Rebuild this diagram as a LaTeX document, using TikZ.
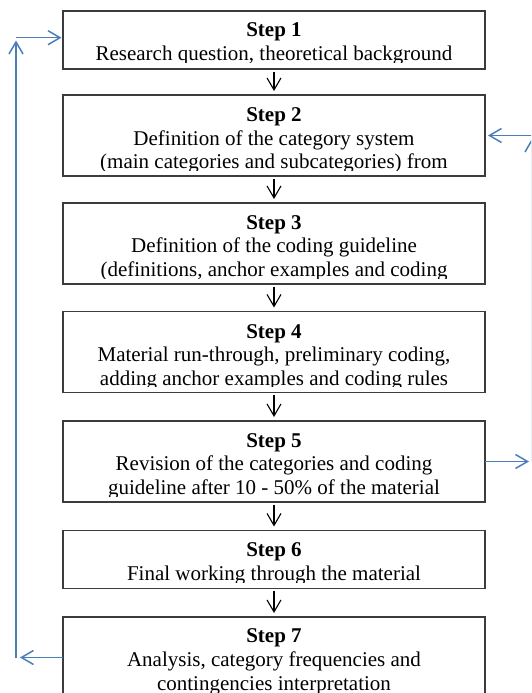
\documentclass[tikz,border=0pt]{standalone}
\usepackage{fontspec}
\setmainfont{Liberation Serif}
\usetikzlibrary{arrows.meta}
\definecolor{boxline}{RGB}{60,60,60}
\definecolor{loopblue}{RGB}{74,126,187}
\begin{document}
\begin{tikzpicture}[x=1pt,y=-1pt,
  stepbox/.style={draw=boxline,line width=1.5pt,minimum width=422pt,inner sep=0pt,outer sep=0pt},
  flow/.style={draw=black,line width=1.1pt,shorten <=2.5pt,shorten >=4pt,-{Straight Barb[length=12pt,width=14pt]}},
  loopline/.style={draw=loopblue,line width=1.5pt},
  loop/.style={loopline,-{Straight Barb[length=12pt,width=14pt]}},
  txt/.style={anchor=base,inner sep=0pt,font=\fontsize{21}{23.5}\selectfont},
  head/.style={txt,font=\fontsize{21}{23.5}\selectfont\bfseries}]
\useasboundingbox (0,0) rectangle (531,693);
\clip (0,0) rectangle (531,693);

% boxes
\node[stepbox,minimum height=58pt] (b1) at (274,40) {};
\node[stepbox,minimum height=81pt] (b2) at (274,135.5) {};
\node[stepbox,minimum height=81pt] (b3) at (274,243.5) {};
\node[stepbox,minimum height=81pt] (b4) at (274,352) {};
\node[stepbox,minimum height=81pt] (b5) at (274,461.5) {};
\node[stepbox,minimum height=58pt] (b6) at (274,559.5) {};
\node[stepbox,minimum height=81pt] (b7) at (274,657.5) {};

% texts, clipped by the text area of their boxes
\begin{scope}
\clip ([shift={(0.75pt,-0.75pt)}]b1.north west) rectangle ([shift={(-0.75pt,6pt)}]b1.south east);
\node[head] (t1a) at (274,37) {Step 1};
\node[txt] (t1b) at (274,60.5) {Research question, theoretical background};
\end{scope}
\begin{scope}
\clip ([shift={(0.75pt,-0.75pt)}]b2.north west) rectangle ([shift={(-0.75pt,6pt)}]b2.south east);
\node[head] (t2a) at (274,121.5) {Step 2};
\node[txt] (t2b) at (274,145) {Definition of the category system};
\node[txt] (t2c) at (274,168.5) {(main categories and subcategories) from};
\end{scope}
\begin{scope}
\clip ([shift={(0.75pt,-0.75pt)}]b3.north west) rectangle ([shift={(-0.75pt,6pt)}]b3.south east);
\node[head] (t3a) at (274,229) {Step 3};
\node[txt] (t3b) at (274,252.5) {Definition of the coding guideline};
\node[txt] (t3c) at (274,276) {(definitions, anchor examples and coding};
\end{scope}
\begin{scope}
\clip ([shift={(0.75pt,-0.75pt)}]b4.north west) rectangle ([shift={(-0.75pt,6pt)}]b4.south east);
\node[head] (t4a) at (274,338) {Step 4};
\node[txt] (t4b) at (274,361.5) {Material run-through, preliminary coding,};
\node[txt] (t4c) at (274,385) {adding anchor examples and coding rules};
\end{scope}
\begin{scope}
\clip ([shift={(0.75pt,-0.75pt)}]b5.north west) rectangle ([shift={(-0.75pt,6pt)}]b5.south east);
\node[head] (t5a) at (274,447) {Step 5};
\node[txt] (t5b) at (274,470.5) {Revision of the categories and coding};
\node[txt] (t5c) at (274,494) {guideline after 10 - 50\% of the material};
\end{scope}
\begin{scope}
\clip ([shift={(0.75pt,-0.75pt)}]b6.north west) rectangle ([shift={(-0.75pt,6pt)}]b6.south east);
\node[head] (t6a) at (274,556.5) {Step 6};
\node[txt] (t6b) at (274,580) {Final working through the material};
\end{scope}
\begin{scope}
\clip ([shift={(0.75pt,-0.75pt)}]b7.north west) rectangle ([shift={(-0.75pt,6pt)}]b7.south east);
\node[head] (t7a) at (274,642) {Step 7};
\node[txt] (t7b) at (274,666.5) {Analysis, category frequencies and};
\node[txt] (t7c) at (274,690) {contingencies interpretation};
\end{scope}

% main flow
\draw[flow] (b1) -- (b2);
\draw[flow] (b2) -- (b3);
\draw[flow] (b3) -- (b4);
\draw[flow] (b4) -- (b5);
\draw[flow] (b5) -- (b6);
\draw[flow] (b6) -- (b7);

% left feedback loop
\coordinate (l7) at (20,657.5);
\coordinate (lbot) at (16,658.2);
\coordinate (ltop) at (16,40.5);
\coordinate (l1) at (16,37.7);
\draw[loop] (b7.west) -- (l7);
\draw[loop] (lbot) -- (ltop);
\draw[loop,shorten >=1.5pt] (l1) -- ([yshift=2.3pt]b1.west);

% right feedback loop
\coordinate (r5) at (529,461.5);
\coordinate (rbot) at (532,461.5);
\coordinate (rtop) at (532,138.5);
\coordinate (r2) at (534,135.5);
\draw[loop] (b5.east) -- (r5);
\draw[loop] (rbot) -- (rtop);
\draw[loop,shorten >=3pt] (r2) -- (b2.east);
\end{tikzpicture}
\end{document}
